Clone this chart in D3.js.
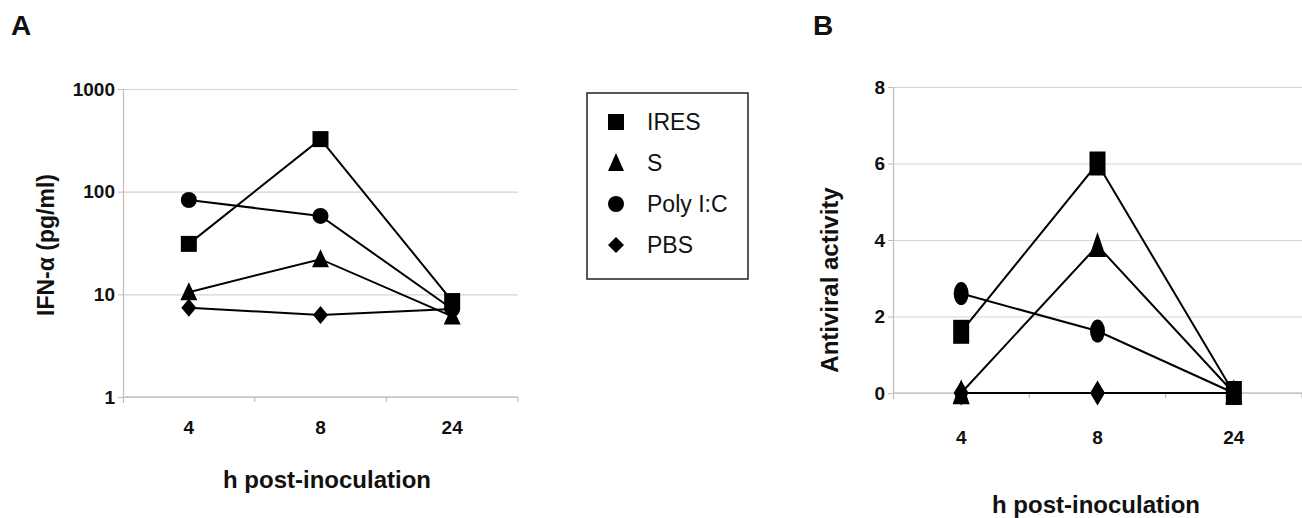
<!DOCTYPE html>
<html>
<head>
<meta charset="utf-8">
<script src="https://cdn.jsdelivr.net/npm/d3@7"></script>
<style>
  body { margin: 0; background: #fff; }
  svg { display: block; font-family: "Liberation Sans", Arial, sans-serif; }
</style>
</head>
<body>
<script>
// data
const hours = ["4", "8", "24"]
const seriesNames = ["IRES", "S", "Poly I:C", "PBS"]
const markerTypes = ["square", "triangle", "circle", "diamond"]

// panel A : IFN-alpha (pg/ml), log scale
const ifnIRES = [31, 325, 8.6]
const ifnS = [10.5, 22, 6.1]
const ifnPoly = [83, 58, 7.2]
const ifnPBS = [7.4, 6.3, 7.2]
const ifnTicks = [1, 10, 100, 1000]

// panel B : antiviral activity
const avIRES = [1.6, 6.0, 0]
const avS = [0, 3.85, 0]
const avPoly = [2.6, 1.62, 0]
const avPBS = [0, 0, 0]
const avTicks = [0, 2, 4, 6, 8]

const W = 1302, H = 518

const svg = d3.select("body").append("svg")
    .attr("width", W)
    .attr("height", H)

function markerPath(type, w, h) {
    const p = d3.path()
    if (type == "square") {
        p.rect(-w / 2, -h / 2, w, h)
    } else if (type == "triangle") {
        p.moveTo(0, -h * 0.55); p.lineTo(w / 2, h * 0.45); p.lineTo(-w / 2, h * 0.45); p.closePath()
    } else if (type == "circle") {
        // ellipse via two arcs, scaled afterwards
        p.arc(0, 0, w / 2, 0, 2 * Math.PI)
    } else if (type == "diamond") {
        p.moveTo(0, -h / 2); p.lineTo(w / 2, 0); p.lineTo(0, h / 2); p.lineTo(-w / 2, 0); p.closePath()
    }
    return p.toString()
}

function drawMarker(g, type, cx, cy, w, h) {
    if (type == "circle") {
        g.append("ellipse").attr("cx", cx).attr("cy", cy)
            .attr("rx", w / 2).attr("ry", h / 2).attr("fill", "#000")
    } else {
        g.append("path").attr("d", markerPath(type, w, h))
            .attr("transform", "translate(" + cx + "," + cy + ")")
            .attr("fill", "#000")
    }
}

function panel(opt) {
    const g = svg.append("g")
    const x = d3.scaleBand().domain(hours).range([opt.left, opt.right])
    const y = opt.y
    const xc = d => x(d) + x.bandwidth() / 2

    // grid lines
    g.append("g")
        .attr("transform", "translate(" + opt.left + ",0)")
        .call(d3.axisLeft(y).tickValues(opt.ticks).tickSize(-(opt.right - opt.left)).tickFormat(""))
        .call(a => a.select(".domain").remove())
        .call(a => a.selectAll(".tick line").attr("stroke", "#d4d4d4").attr("stroke-width", 1.2))

    // left axis with small outer ticks and labels
    g.append("g")
        .attr("transform", "translate(" + opt.left + ",0)")
        .call(d3.axisLeft(y).tickValues(opt.ticks).tickSize(5).tickPadding(3).tickSizeOuter(0).tickFormat(d3.format("d")))
        .call(a => a.select(".domain").attr("stroke", "#bdbdbd").attr("stroke-width", 1.2)
            .attr("d", "M0.5," + (opt.bottom + 6) + "V" + opt.top))
        .call(a => a.selectAll(".tick line").attr("stroke", "#bdbdbd"))
        .call(a => a.selectAll(".tick text").attr("fill", "#111")
            .style("font-size", "19px").style("font-weight", "bold"))

    // bottom axis line
    g.append("line")
        .attr("x1", opt.left).attr("x2", opt.right)
        .attr("y1", opt.bottom).attr("y2", opt.bottom)
        .attr("stroke", "#c4c4c4").attr("stroke-width", 1.4)

    // category boundary ticks
    g.selectAll(".bt").data(hours).join("line")
        .attr("x1", d => x(d) + x.bandwidth()).attr("x2", d => x(d) + x.bandwidth())
        .attr("y1", opt.bottom).attr("y2", opt.bottom + 5)
        .attr("stroke", "#bdbdbd").attr("stroke-width", 1.2)

    // x labels
    g.selectAll(".xl").data(hours).join("text")
        .attr("x", xc).attr("y", opt.xLabelY)
        .attr("text-anchor", "middle")
        .style("font-size", "19px").style("font-weight", "bold").attr("fill", "#111")
        .text(d => d)

    const line = d3.line().x((d, i) => xc(hours[i])).y(d => y(d))

    opt.series.forEach((vals, k) => {
        g.append("path").datum(vals)
            .attr("d", line)
            .attr("fill", "none").attr("stroke", "#000").attr("stroke-width", 2)
    })
    opt.series.forEach((vals, k) => {
        vals.forEach((v, i) => {
            drawMarker(g, markerTypes[k], xc(hours[i]), y(v), opt.mw[k], opt.mh[k])
        })
    })

    // titles
    g.append("text")
        .attr("x", opt.xTitleX).attr("y", opt.xTitleY)
        .attr("text-anchor", "middle")
        .style("font-size", "24px").style("font-weight", "bold").attr("fill", "#111")
        .text("h post-inoculation")

    g.append("text")
        .attr("transform", "translate(" + opt.yTitleX + "," + opt.yTitleY + ") rotate(-90)")
        .attr("text-anchor", "middle").attr("dy", "0.35em")
        .style("font-size", opt.yTitleSize).style("font-weight", "bold").attr("fill", "#111")
        .text(opt.yTitle)

    g.append("text")
        .attr("x", opt.letterX).attr("y", 35)
        .style("font-size", "28px").style("font-weight", "bold").attr("fill", "#111")
        .text(opt.letter)
}

panel({
    letter: "A", letterX: 11,
    left: 123, right: 518, top: 89, bottom: 397,
    y: d3.scaleLog().domain([1, 1000]).range([397, 89]),
    ticks: ifnTicks,
    series: [ifnIRES, ifnS, ifnPoly, ifnPBS],
    mw: [16, 17, 16, 15], mh: [16, 18, 16, 18],
    xLabelY: 434,
    xTitleX: 327, xTitleY: 488,
    yTitle: "IFN-α (pg/ml)", yTitleX: 46, yTitleY: 245, yTitleSize: "23px"
})

panel({
    letter: "B", letterX: 813,
    left: 893, right: 1302, top: 87, bottom: 393,
    y: d3.scaleLinear().domain([0, 8]).range([393, 87]),
    ticks: avTicks,
    series: [avIRES, avS, avPoly, avPBS],
    mw: [16, 17, 15, 15], mh: [24, 25, 23, 25],
    xLabelY: 444,
    xTitleX: 1096, xTitleY: 513,
    yTitle: "Antiviral activity", yTitleX: 830, yTitleY: 280, yTitleSize: "24px"
})

// legend
const leg = svg.append("g")
leg.append("rect")
    .attr("x", 587).attr("y", 93).attr("width", 161).attr("height", 186)
    .attr("fill", "none").attr("stroke", "#222").attr("stroke-width", 1.5)

const legY = d3.scalePoint().domain(seriesNames).range([122, 245])
seriesNames.forEach((name, k) => {
    drawMarker(leg, markerTypes[k], 616, legY(name), 16, k == 1 ? 18 : 16)
    leg.append("text")
        .attr("x", 647).attr("y", legY(name)).attr("dy", "0.36em")
        .style("font-size", "23px").attr("fill", "#111")
        .text(name)
})
</script>
</body>
</html>
